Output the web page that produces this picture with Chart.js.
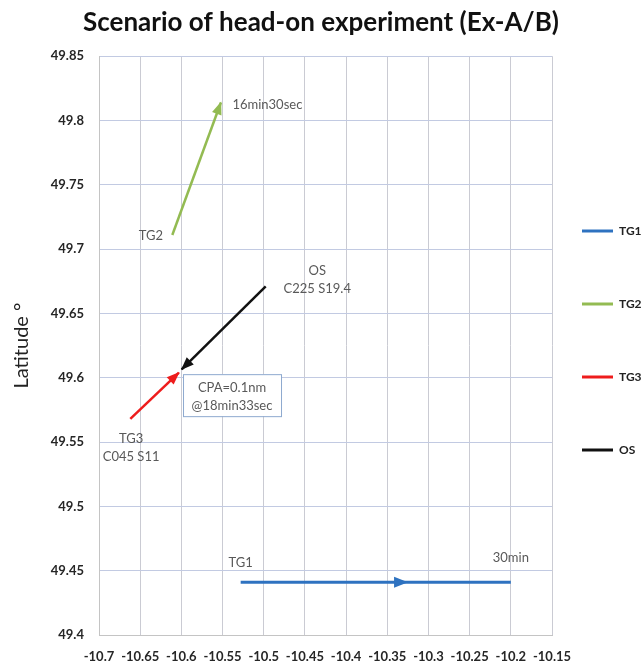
<!DOCTYPE html>
<html>
<head>
<meta charset="utf-8">
<script src="https://cdn.jsdelivr.net/npm/chart.js@4/dist/chart.umd.min.js"></script>
<style>
  html, body { margin: 0; padding: 0; background: #ffffff; }
  #wrap { width: 642px; height: 670px; }
</style>
</head>
<body>
<div id="wrap"><canvas id="c" width="642" height="670"></canvas></div>
<script>
// ---- Data (longitude / latitude of each track) ----
const seriesNames = ['TG1', 'TG2', 'TG3', 'OS'];
const tg1Lon = [-10.528, -10.326, -10.2];
const tg1Lat = [49.441, 49.441, 49.441];
const tg2Lon = [-10.611, -10.552];
const tg2Lat = [49.711, 49.814];
const tg3Lon = [-10.662, -10.603];
const tg3Lat = [49.568, 49.604];
const osLon = [-10.4976, -10.5996];
const osLat = [49.671, 49.6066];

// ---- Tick labels ----
const xTicks = [-10.7, -10.65, -10.6, -10.55, -10.5, -10.45, -10.4, -10.35, -10.3, -10.25, -10.2, -10.15];
const yTicks = [49.4, 49.45, 49.5, 49.55, 49.6, 49.65, 49.7, 49.75, 49.8, 49.85];

// ---- Text annotations ----
const noteTexts = [['TG2'], ['16min30sec'], ['OS', 'C225 S19.4'], ['TG3', 'C045 S11'], ['TG1'], ['30min'], ['CPA=0.1nm', '@18min33sec']];
const noteLon = [-10.637, -10.538, -10.435, -10.661, -10.528, -10.2, -10.5385];
const noteLat = [49.7107, 49.812, 49.6828, 49.5523, 49.456, 49.4598, 49.5923];

const pts = (xs, ys) => xs.map((x, i) => ({ x: x, y: ys[i] }));

const FONT = 'Lato, "Open Sans", "DejaVu Sans", sans-serif';

const arrowPlugin = {
  id: 'arrows',
  afterDatasetsDraw(chart) {
    const ctx = chart.ctx;
    chart.data.datasets.forEach((ds, di) => {
      const meta = chart.getDatasetMeta(di);
      (ds.arrowAt || []).forEach(i => {
        const p = meta.data[i], q = meta.data[i - 1];
        if (!p || !q) return;
        const ang = Math.atan2(p.y - q.y, p.x - q.x);
        const len = ds.arrowLen || 12, hw = ds.arrowHalf || 5;
        ctx.save();
        ctx.translate(p.x, p.y);
        ctx.rotate(ang);
        ctx.beginPath();
        ctx.moveTo(1, 0);
        ctx.lineTo(-len, -hw);
        ctx.lineTo(-len, hw);
        ctx.closePath();
        ctx.fillStyle = ds.borderColor;
        ctx.fill();
        ctx.restore();
      });
    });
  }
};

const notePlugin = {
  id: 'notes',
  afterDatasetsDraw(chart) {
    const ctx = chart.ctx;
    const xs = chart.scales.x, ys = chart.scales.y;
    ctx.save();
    ctx.font = '13px ' + FONT;
    ctx.fillStyle = '#595959';
    ctx.textBaseline = 'middle';
    noteTexts.forEach((lines, k) => {
      const cx = xs.getPixelForValue(noteLon[k]);
      const cy = ys.getPixelForValue(noteLat[k]);
      ctx.textAlign = lines[0] === '16min30sec' ? 'left' : 'center';
      if (lines[0].indexOf('CPA') === 0) {
        ctx.save();
        ctx.fillStyle = '#ffffff';
        ctx.strokeStyle = '#8ea9cf';
        ctx.lineWidth = 1;
        ctx.fillRect(cx - 49, cy - 13.5, 98, 42);
        ctx.strokeRect(cx - 49 + 0.5, cy - 13.5 + 0.5, 98, 42);
        ctx.restore();
      }
      lines.forEach((t, j) => ctx.fillText(t, cx, cy + j * 18));
    });
    ctx.restore();
  }
};

const chart = new Chart(document.getElementById('c'), {
  type: 'scatter',
  data: {
    datasets: [
      { label: seriesNames[0], data: pts(tg1Lon, tg1Lat), borderColor: '#2e72c0', backgroundColor: '#2e72c0', borderWidth: 3, arrowAt: [1], arrowLen: 13, arrowHalf: 5.5 },
      { label: seriesNames[1], data: pts(tg2Lon, tg2Lat), borderColor: '#93bb52', backgroundColor: '#93bb52', borderWidth: 2.5, arrowAt: [1] },
      { label: seriesNames[2], data: pts(tg3Lon, tg3Lat), borderColor: '#ee1c1c', backgroundColor: '#ee1c1c', borderWidth: 2.5, arrowAt: [1] },
      { label: seriesNames[3], data: pts(osLon, osLat), borderColor: '#111111', backgroundColor: '#111111', borderWidth: 2.5, arrowAt: [1] }
    ].map(d => Object.assign(d, { showLine: true, pointRadius: 0, pointHoverRadius: 0, tension: 0 }))
  },
  options: {
    responsive: false,
    animation: false,
    events: [],
    layout: { padding: { left: 0, right: 0, top: 0, bottom: 0 } },
    plugins: {
      title: {
        display: true,
        text: 'Scenario of head-on experiment (Ex-A/B)',
        color: '#111111',
        font: { family: FONT, size: 26, weight: 'bold' },
        padding: { top: 7, bottom: 18 }
      },
      legend: {
        position: 'right',
        maxWidth: 90,
        title: { display: true, text: ' ', font: { size: 12, lineHeight: 1 }, padding: 15 },
        labels: {
          color: '#222222',
          font: { family: FONT, size: 12, weight: 'bold', lineHeight: 43 / 12 },
          boxWidth: 31,
          boxHeight: 3,
          padding: 30,
          generateLabels(ch) {
            return Chart.defaults.plugins.legend.labels.generateLabels(ch).map(it => Object.assign(it, {
              text: [it.text], lineWidth: 0, fillStyle: it.strokeStyle
            }));
          }
        }
      },
      tooltip: { enabled: false }
    },
    scales: {
      x: {
        type: 'linear',
        min: -10.7,
        max: -10.15,
        afterBuildTicks: s => { s.ticks = xTicks.map(v => ({ value: v })); },
        afterFit: s => { s.height = 35; },
        ticks: {
          callback: v => String(v),
          color: '#262626',
          font: { family: FONT, size: 13, weight: 'bold' },
          padding: 14,
          maxRotation: 0,
          autoSkip: false
        },
        grid: { color: '#cacbd3', drawTicks: false, lineWidth: 1 },
        border: { color: '#c4c4c4' }
      },
      y: {
        type: 'linear',
        min: 49.4,
        max: 49.85,
        afterBuildTicks: s => { s.ticks = yTicks.map(v => ({ value: v })); },
        afterFit: s => { s.width = 99; },
        ticks: {
          callback: v => String(v),
          color: '#262626',
          font: { family: FONT, size: 13, weight: 'bold' },
          padding: 15,
          autoSkip: false
        },
        title: {
          display: true,
          text: 'Latitude °',
          color: '#222222',
          font: { family: FONT, size: 20 },
          padding: { top: 10, bottom: 4 }
        },
        grid: { color: '#c2cae2', drawTicks: false, lineWidth: 1 },
        border: { color: '#c4c4c4' }
      }
    }
  },
  plugins: [arrowPlugin, notePlugin]
});
</script>
</body>
</html>
